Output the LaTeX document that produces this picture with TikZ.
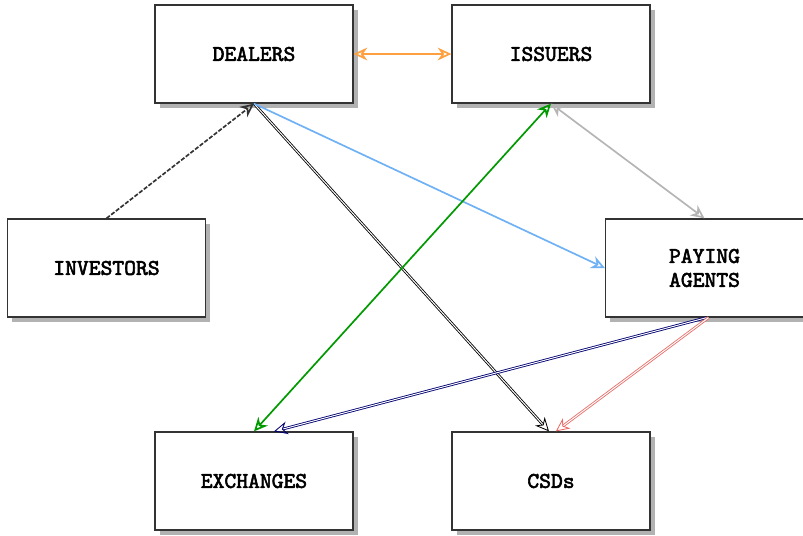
\documentclass[tikz,border=0pt]{standalone}
\usepackage{fontspec}
\setmonofont{lmmono10-regular.otf}[BoldFont=lmmono10-regular.otf, BoldFeatures={FakeBold=2.5}]
\usepackage{tikz}
\usetikzlibrary{arrows.meta,positioning,shadows}

\definecolor{boxline}{HTML}{333333}
\definecolor{orangeline}{HTML}{FFA040}
\definecolor{blueline}{HTML}{6FB1F5}
\definecolor{greenline}{HTML}{009900}
\definecolor{grayline}{HTML}{B5B5B5}
\definecolor{navyline}{HTML}{000070}
\definecolor{redline}{HTML}{EA6B66}

\tikzset{
  actor/.style={draw=boxline, line width=0.9pt, fill=white,
    minimum width=4.95cm, minimum height=2.45cm, align=center,
    font=\ttfamily\bfseries\fontsize{16}{17}\selectfont,
    drop shadow={shadow xshift=0.12cm, shadow yshift=-0.12cm, fill=black!30, opacity=1}},
  flow/.style={line width=1.2pt, -{Stealth[open,length=3.4mm,width=3.2mm]}},
  twoway/.style={line width=1.2pt, {Stealth[open,length=3.4mm,width=3.2mm]}-{Stealth[open,length=3.4mm,width=3.2mm]}},
  sketch/.style={double, double distance=0.7pt, line width=0.6pt},
  dashline/.style={dash pattern=on 3pt off 1.2pt}
}

\begin{document}
\begin{tikzpicture}[x=0.025cm,y=-0.025cm]
  \useasboundingbox (0,0) rectangle (803,535);
  % parties
  \node[actor] (dealers) at (254,54) {DEALERS};
  \node[actor] (issuers) at (551,54) {ISSUERS};
  \node[actor] (investors) at (106.5,268) {INVESTORS};
  \node[actor] (paying) at (704.5,268) {PAYING\\AGENTS};
  \node[actor] (exchanges) at (254,481) {EXCHANGES};
  \node[actor] (csds) at (551,481) {CSDs};
  % links
  \draw[flow, boxline, dashline] (investors.north) -- (dealers.south);
  \draw[flow, black, sketch] (dealers.south) -- ([xshift=-0.05cm]csds.north);
  \draw[flow, blueline] (dealers.south) -- (paying.west);
  \draw[twoway, orangeline] (dealers.east) -- (issuers.west);
  \draw[twoway, greenline] (issuers.south) -- (exchanges.north);
  \draw[twoway, grayline] (issuers.south) -- (paying.north);
  \draw[flow, navyline, sketch] ([xshift=0.05cm]paying.south) -- ([xshift=0.5cm]exchanges.north);
  \draw[flow, redline, sketch] ([xshift=0.1cm]paying.south) -- ([xshift=0.12cm]csds.north);
\end{tikzpicture}
\end{document}
